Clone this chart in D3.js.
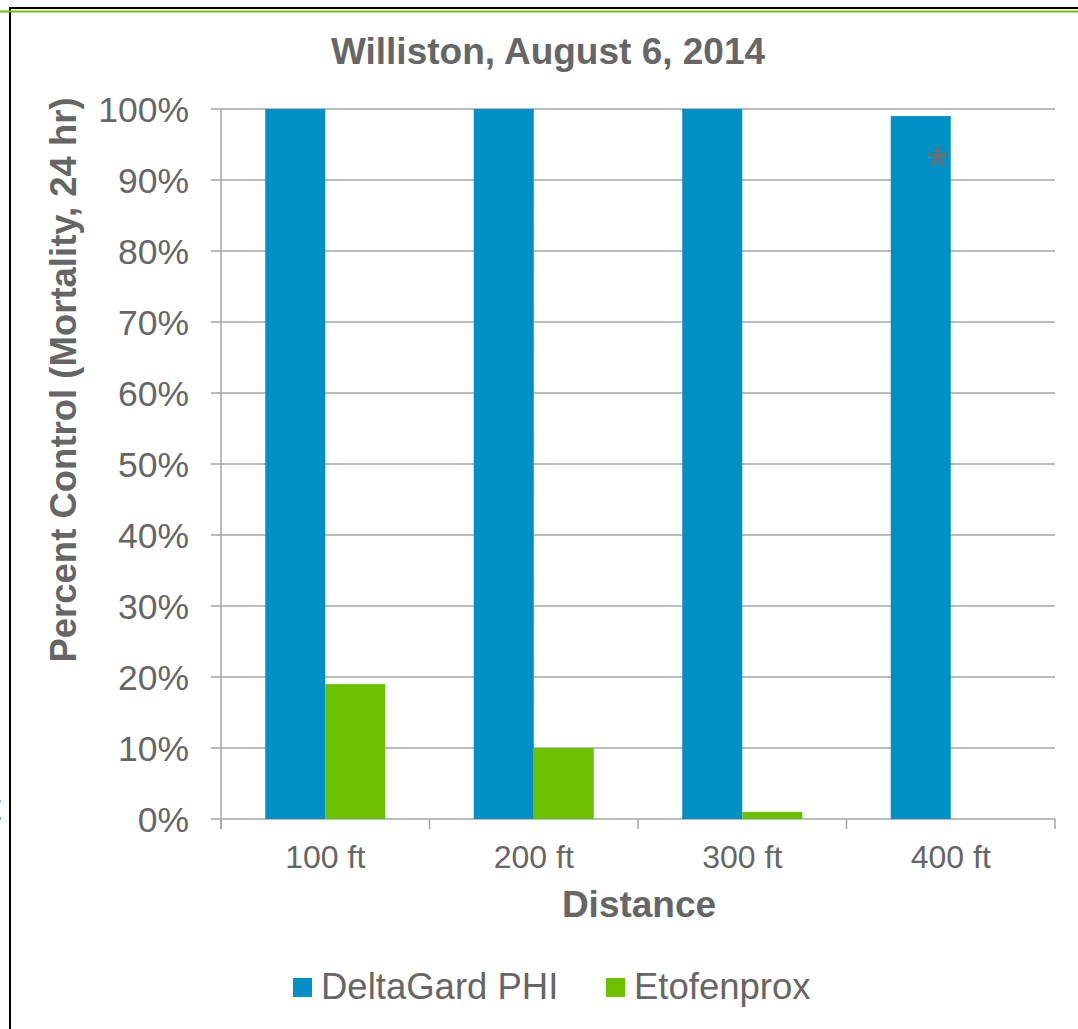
<!DOCTYPE html>
<html><head><meta charset="utf-8">
<script src="https://cdn.jsdelivr.net/npm/d3@7"></script>
<style>body{margin:0;background:#fff}svg{display:block}text{font-family:"Liberation Sans",Arial,sans-serif}</style>
</head><body>
<script>
const categories = ["100 ft","200 ft","300 ft","400 ft"];
const seriesNames = ["DeltaGard PHI","Etofenprox"];
const deltaGard = [100,100,100,99];
const etofenprox = [19,10,1,0];
const yTicks = [0,10,20,30,40,50,60,70,80,90,100];
const colors = ["#0090C6","#6CC000"];

const W=1078,H=1029;
const svg=d3.select("body").append("svg").attr("width",W).attr("height",H);
const grey="#666666";
// frame lines
svg.append("line").attr("x1",9).attr("x2",W).attr("y1",8).attr("y2",8).attr("stroke","#000").attr("stroke-width",2);
svg.append("line").attr("x1",10).attr("x2",10).attr("y1",7).attr("y2",H).attr("stroke","#000").attr("stroke-width",2);
svg.append("line").attr("x1",0).attr("x2",W).attr("y1",11.5).attr("y2",11.5).attr("stroke","#6CC000").attr("stroke-width",2);
// clipped stray glyph at left edge
svg.append("text").attr("x",-9).attr("y",820).attr("font-size",36).attr("fill",grey).text("t");

const x0=d3.scaleBand().domain(categories).range([221,1055]);
const x1=d3.scaleBand().domain(seriesNames).range([0,120]);
const y=d3.scaleLinear().domain([0,100]).range([819,109]);

// gridlines
svg.append("g").selectAll("line").data(yTicks).join("line")
 .attr("x1",211).attr("x2",1055).attr("y1",d=>y(d)).attr("y2",d=>y(d))
 .attr("stroke","#a6a6a6").attr("stroke-width",1.5);
// y axis line
svg.append("line").attr("x1",221).attr("x2",221).attr("y1",y(100)).attr("y2",829).attr("stroke","#a6a6a6").attr("stroke-width",1.5);
// x ticks
const xt=categories.map(c=>x0(c)).concat([1055]);
svg.append("g").selectAll("line").data(xt).join("line")
 .attr("x1",d=>d).attr("x2",d=>d).attr("y1",819).attr("y2",829).attr("stroke","#a6a6a6").attr("stroke-width",1.5);

// bars
const data=categories.map((c,i)=>({c,vals:[deltaGard[i],etofenprox[i]]}));
const g=svg.append("g");
data.forEach(d=>{
  d.vals.forEach((v,j)=>{
    const bx=x0(d.c)+(x0.bandwidth()-120)/2+x1(seriesNames[j]);
    g.append("rect").attr("x",bx).attr("width",x1.bandwidth()).attr("y",y(v)).attr("height",y(0)-y(v)).attr("fill",colors[j]);
  });
});
// asterisk on 400 ft
svg.append("text").attr("x",x0("400 ft")+(x0.bandwidth()-120)/2+x1.bandwidth()*0.78).attr("y",y(92.5)+23)
 .attr("text-anchor","middle").attr("font-size",56).attr("fill","#6e6e6e").text("*");

// y tick labels
svg.append("g").selectAll("text").data(yTicks).join("text")
 .attr("x",189).attr("y",d=>y(d)+13).attr("text-anchor","end").attr("font-size",35.5).attr("fill",grey).text(d=>d+"%");
// x tick labels
svg.append("g").selectAll("text").data(categories).join("text")
 .attr("x",d=>x0(d)+x0.bandwidth()/2).attr("y",868).attr("text-anchor","middle").attr("font-size",32).attr("fill",grey).text(d=>d);

// titles
svg.append("text").attr("x",548).attr("y",64).attr("text-anchor","middle").attr("font-size",37).attr("font-weight","bold").attr("fill",grey).text("Williston, August 6, 2014");
svg.append("text").attr("x",639).attr("y",917).attr("text-anchor","middle").attr("font-size",37).attr("font-weight","bold").attr("fill",grey).text("Distance");
svg.append("text").attr("transform","translate(76,380) rotate(-90)").attr("text-anchor","middle").attr("font-size",36.5).attr("font-weight","bold").attr("fill",grey).text("Percent Control (Mortality, 24 hr)");

// legend
const legX=[293,606];
seriesNames.forEach((s,i)=>{
  svg.append("rect").attr("x",legX[i]).attr("y",978).attr("width",19).attr("height",19).attr("fill",colors[i]);
  svg.append("text").attr("x",legX[i]+28).attr("y",999).attr("font-size",36.5).attr("fill",grey).text(s);
});
</script>
</body></html>
